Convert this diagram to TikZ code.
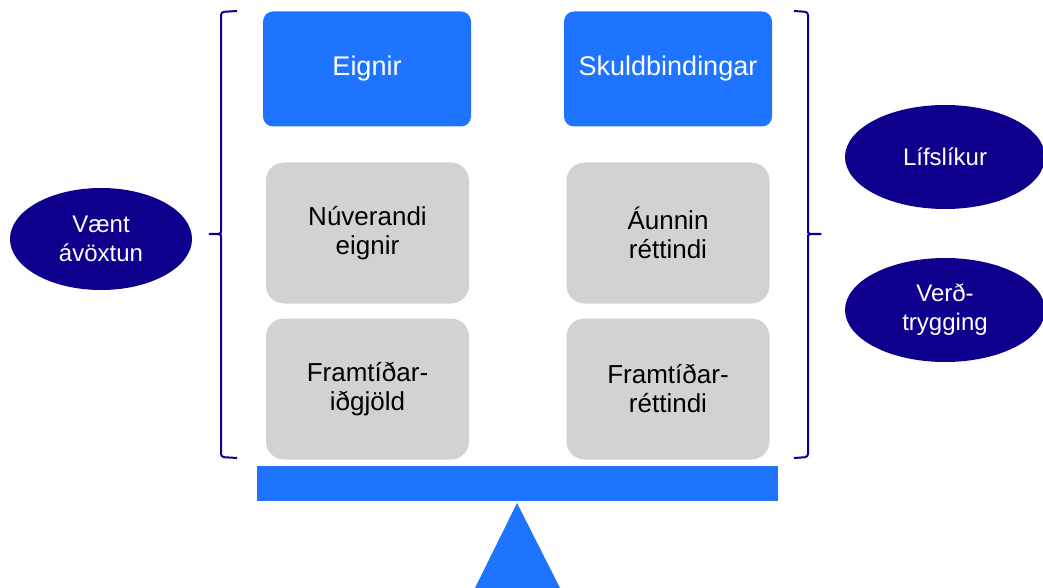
\documentclass[tikz,border=0pt]{standalone}
\usepackage{fontspec}
\setmainfont{Liberation Sans}
\usetikzlibrary{shapes.geometric}
\definecolor{ablue}{HTML}{1E74FF}
\definecolor{anavy}{HTML}{0E008C}
\definecolor{agrey}{HTML}{D2D2D2}
\tikzset{
  bluebox/.style={fill=ablue,rounded corners=5pt,minimum width=104pt,minimum height=57.5pt,text=white,font=\fontsize{13.5}{16}\selectfont,align=center},
  greybox/.style={fill=agrey,rounded corners=9pt,minimum width=101.5pt,minimum height=70.5pt,text=black,font=\fontsize{13}{14.5}\selectfont,align=center},
  risk/.style={ellipse,fill=anavy,inner sep=0pt,text=white,font=\fontsize{12}{14.5}\selectfont,align=center},
  bracket/.style={anavy,line width=1pt,rounded corners=1.5pt}
}
\begin{document}
\begin{tikzpicture}[x=0.5pt,y=0.5pt,yscale=-1,xscale=1]
\useasboundingbox (0,0) rectangle (1043,588);

%Shape: Rectangle [id:eignir]
\node [bluebox] (eignir) at (367,69) {Eignir};
%Shape: Rectangle [id:skuld]
\node [bluebox] (skuld) at (668,69) {Skuldbindingar};

%Shape: Rectangle [id:nuv]
\node [greybox] (nuv) at (367.5,233) {Núverandi\\eignir};
%Shape: Rectangle [id:aunnin]
\node [greybox] (aunnin) at (668,233) {Áunnin\\réttindi};
%Shape: Rectangle [id:framl]
\node [greybox] (framl) at (367.5,389) {Framtíðar-\\iðgjöld};
%Shape: Rectangle [id:framr]
\node [greybox] (framr) at (668,389) {Framtíðar-\\réttindi};

%Shape: Ellipse [id:vaent]
\node [risk,minimum width=91pt,minimum height=51pt] (vaent) at (101,239) {Vænt\\ávöxtun};
%Shape: Ellipse [id:lifs]
\node [risk,minimum width=100pt,minimum height=52pt] (lifs) at (945,157) {Lífslíkur};
%Shape: Ellipse [id:verd]
\node [risk,minimum width=100pt,minimum height=52pt] (verd) at (945,310) {Verð-\\trygging};

%Shape: Brace [id:left]
\draw [bracket] (237,11) -- (221,12) -- (221,228) .. controls (221,234) .. (207,234) .. controls (221,234) .. (221,240) -- (221,457) -- (237,458) ;
%Shape: Brace [id:right]
\draw [bracket] (794,11) -- (808,12) -- (808,228) .. controls (808,234) .. (823,234) .. controls (808,234) .. (808,240) -- (808,457) -- (794,458) ;

%Shape: Rectangle [id:beam]
\fill [ablue] (257,466) rectangle (778,501) ;
%Shape: Triangle [id:fulcrum]
\fill [ablue] (475,588) -- (517,503) -- (560,588) -- cycle ;

\end{tikzpicture}
\end{document}
